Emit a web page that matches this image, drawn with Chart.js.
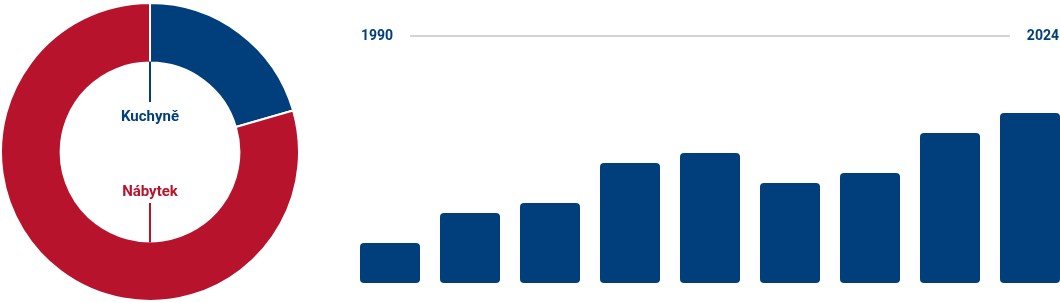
<!DOCTYPE html>
<html>
<head>
<meta charset="utf-8">
<script src="https://cdn.jsdelivr.net/npm/chart.js@4.4.1/dist/chart.umd.min.js"></script>
<style>
  html, body { margin: 0; padding: 0; background: #ffffff; overflow: hidden; width: 1060px; height: 303px; }
  #wrap { position: relative; width: 1060px; height: 303px; overflow: hidden; }
  #donut { position: absolute; left: 0; top: 2px; }
  #bars { position: absolute; left: 350px; top: 0; }
</style>
</head>
<body>
<div id="wrap">
  <canvas id="donut" width="300" height="300"></canvas>
  <canvas id="bars" width="720" height="303"></canvas>
</div>
<script>
// ---- data ----
const shareLabels = ['Kuchyně', 'Nábytek'];
const shareValues = [20.5, 79.5];
const shareColors = ['#003f7b', '#b8132c'];

const barCategories = ['1', '2', '3', '4', '5', '6', '7', '8', '9'];
const barValues = [4, 7, 8, 12, 13, 10, 11, 15, 17];
const timelineLabels = ['1990', '2024'];

const BLUE = '#003f7b';
const FONT = 'Roboto, "Noto Sans", sans-serif';

// ---- doughnut labels plugin ----
const donutLabels = {
  id: 'donutLabels',
  afterDraw(chart) {
    const arc = chart.getDatasetMeta(0).data[0];
    if (!arc) return;
    const cx = arc.x, cy = arc.y, rin = arc.innerRadius;
    const ctx = chart.ctx;
    ctx.save();
    ctx.lineWidth = 2;
    // top label (first slice)
    ctx.strokeStyle = shareColors[0];
    ctx.beginPath(); ctx.moveTo(cx, cy - rin - 1); ctx.lineTo(cx, cy - 50); ctx.stroke();
    ctx.fillStyle = shareColors[0];
    ctx.font = 'bold 15px ' + FONT;
    ctx.textAlign = 'center';
    ctx.textBaseline = 'middle';
    ctx.fillText(shareLabels[0], cx, cy - 35);
    // bottom label (second slice)
    ctx.strokeStyle = shareColors[1];
    ctx.beginPath(); ctx.moveTo(cx, cy + 51); ctx.lineTo(cx, cy + rin + 1); ctx.stroke();
    ctx.fillStyle = shareColors[1];
    ctx.fillText(shareLabels[1], cx, cy + 40);
    ctx.restore();
  }
};

new Chart(document.getElementById('donut'), {
  type: 'doughnut',
  data: {
    labels: shareLabels,
    datasets: [{
      data: shareValues,
      backgroundColor: shareColors,
      borderColor: '#ffffff',
      borderWidth: 2,
      hoverOffset: 0
    }]
  },
  options: {
    responsive: false,
    animation: false,
    cutout: '60%',
    layout: { padding: 0 },
    plugins: { legend: { display: false }, tooltip: { enabled: false } },
    events: []
  },
  plugins: [donutLabels]
});

// ---- timeline plugin ----
const timeline = {
  id: 'timeline',
  afterDraw(chart) {
    const bars = chart.getDatasetMeta(0).data;
    if (!bars.length) return;
    const first = bars[0], last = bars[bars.length - 1];
    const left = first.x - first.width / 2;
    const right = last.x + last.width / 2;
    const y = 36;
    const ctx = chart.ctx;
    ctx.save();
    ctx.font = 'bold 14px ' + FONT;
    ctx.fillStyle = BLUE;
    ctx.textBaseline = 'middle';
    ctx.textAlign = 'left';
    ctx.fillText(timelineLabels[0], left + 1, y);
    const w0 = ctx.measureText(timelineLabels[0]).width;
    ctx.textAlign = 'right';
    ctx.fillText(timelineLabels[1], right - 1, y);
    const w1 = ctx.measureText(timelineLabels[1]).width;
    ctx.strokeStyle = '#d3d3d3';
    ctx.lineWidth = 2;
    ctx.beginPath();
    ctx.moveTo(left + 1 + w0 + 17, y);
    ctx.lineTo(right - 1 - w1 - 17, y);
    ctx.stroke();
    ctx.restore();
  }
};

new Chart(document.getElementById('bars'), {
  type: 'bar',
  data: {
    labels: barCategories,
    datasets: [{
      data: barValues,
      backgroundColor: BLUE,
      borderWidth: 0,
      borderRadius: 4,
      borderSkipped: false,
      categoryPercentage: 1,
      barPercentage: 0.75
    }]
  },
  options: {
    responsive: false,
    animation: false,
    layout: { padding: { top: 113, bottom: 20, left: 0, right: 0 } },
    scales: {
      x: { display: false },
      y: { display: false, min: 0, max: 17 }
    },
    plugins: { legend: { display: false }, tooltip: { enabled: false } },
    events: []
  },
  plugins: [timeline]
});
</script>
</body>
</html>
